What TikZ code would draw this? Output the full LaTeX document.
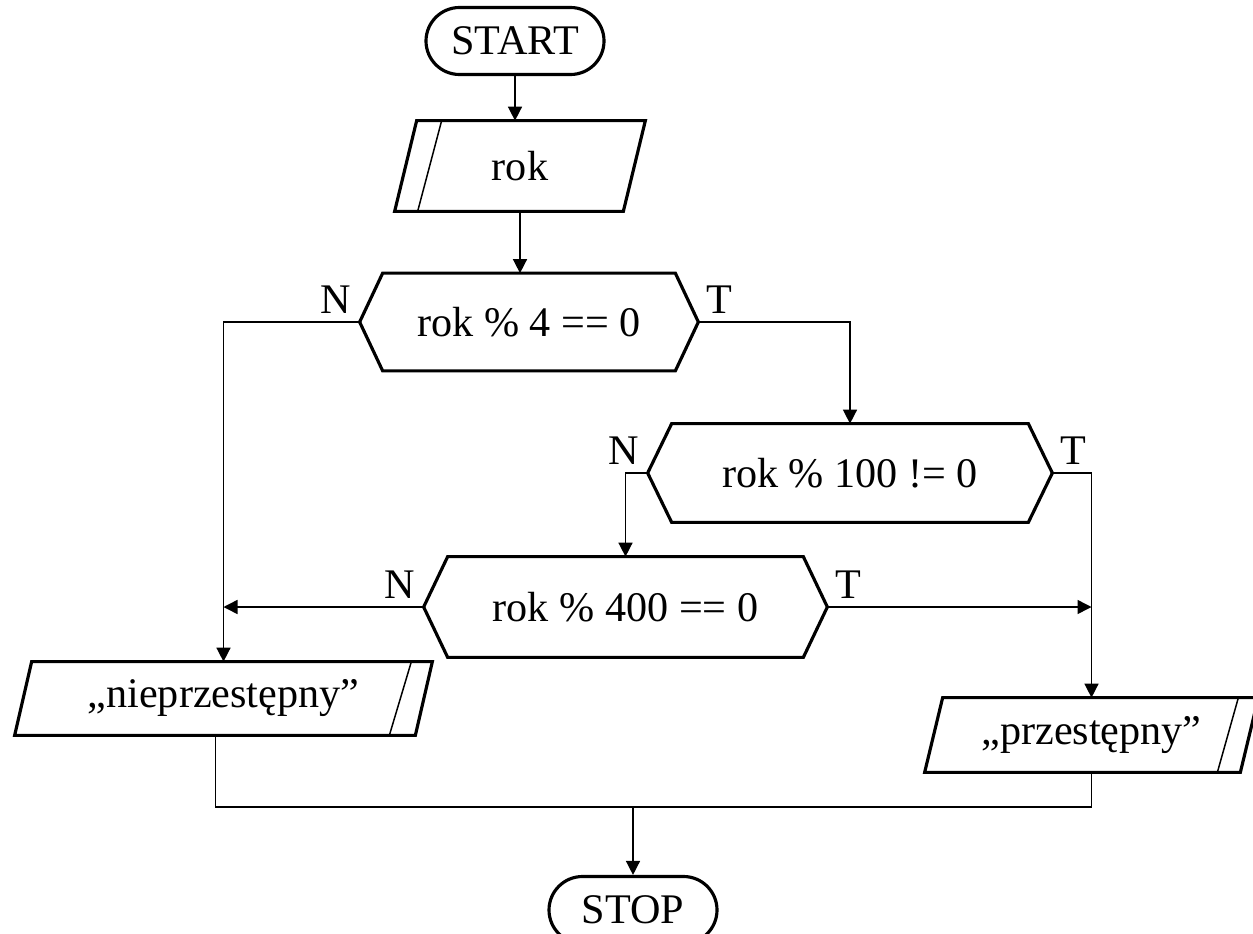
\documentclass[tikz,border=0pt]{standalone}
\usepackage{fontspec}
\setmainfont{Liberation Serif}
\usetikzlibrary{arrows.meta}
\begin{document}
\begin{tikzpicture}[
    font=\fontsize{24}{29}\selectfont,
    box/.style={inner sep=0pt},
    term/.style={box, draw, line width=1.8pt, rounded corners=0.67cm, minimum height=1.34cm},
    shp/.style={line width=1.8pt},
    edge/.style={line width=0.85pt},
    lbl/.style={inner sep=0.16cm}
  ]
  \useasboundingbox (0,0) rectangle (25.06,-18.68);
  \node[term, minimum width=3.56cm] (start) at (10.30,-0.82) {START};
  \node[box, minimum width=5.00cm, minimum height=1.80cm] (rok) at (10.40,-3.32) {rok};
  \node[box, minimum width=6.76cm, minimum height=1.94cm] (c1) at (10.58,-6.44) {rok \% 4 == 0};
  \node[box, minimum width=8.08cm, minimum height=1.96cm] (c2) at (17.00,-9.46) {rok \% 100 != 0};
  \node[box, minimum width=8.06cm, minimum height=2.00cm] (c3) at (12.51,-12.14) {rok \% 400 == 0};
  \node[box, minimum width=8.34cm, minimum height=1.46cm] (nie) at (4.47,-13.97) {„nieprzestępny”};
  \node[box, minimum width=6.66cm, minimum height=1.48cm] (prz) at (21.83,-14.70) {„przestępny”};
  \node[term, minimum width=3.36cm] (stop) at (12.66,-18.20) {STOP};
  \coordinate (m) at (12.66,-16.14);

  \node[lbl, anchor=south east] (n1) at (c1.west) {N};
  \node[lbl, anchor=south west] (t1) at (c1.east) {T};
  \node[lbl, anchor=south east] (n2) at (c2.west) {N};
  \node[lbl, anchor=south west] (t2) at (c2.east) {T};
  \node[lbl, anchor=south east] (n3) at (c3.west) {N};
  \node[lbl, anchor=south west] (t3) at (c3.east) {T};

  \foreach \n/\d in {c1/0.46, c2/0.48, c3/0.48}
    \draw[shp] (\n.west) -- ([xshift=\d cm]\n.north west) -- ([xshift=-\d cm]\n.north east)
      -- (\n.east) -- ([xshift=-\d cm]\n.south east) -- ([xshift=\d cm]\n.south west) -- cycle;
  \draw[shp] ([xshift=0.44cm]rok.north west) -- (rok.north east) -- ([xshift=-0.44cm]rok.south east) -- (rok.south west) -- cycle;
  \draw[edge] ([xshift=0.94cm]rok.north west) -- ([xshift=0.46cm]rok.south west);
  \draw[shp] ([xshift=0.34cm]nie.north west) -- (nie.north east) -- ([xshift=-0.34cm]nie.south east) -- (nie.south west) -- cycle;
  \draw[edge] ([xshift=-0.42cm]nie.north east) -- ([xshift=-0.86cm]nie.south east);
  \draw[shp] ([xshift=0.36cm]prz.north west) -- (prz.north east) -- ([xshift=-0.36cm]prz.south east) -- (prz.south west) -- cycle;
  \draw[edge] ([xshift=-0.40cm]prz.north east) -- ([xshift=-0.82cm]prz.south east);

  \begin{scope}[edge, -{Triangle[length=0.28cm,width=0.28cm]}]
    \draw (start.south) -- (start.south |- rok.north);
    \draw (rok.south) -- (rok.south |- c1.north);
    \draw (c1.west) -| (nie.north);
    \draw (c1.east) -| (c2.north);
    \draw (c2.west) -| (c3.north);
    \draw (c2.east) -| (prz.north);
    \draw (c3.west) -- (c3.west -| nie.north);
    \draw (c3.east) -- (c3.east -| prz.north);
    \draw (m) -- (stop.north);
  \end{scope}
  \draw[edge] ([xshift=-0.16cm]nie.south) |- (m) -| (prz.south);
\end{tikzpicture}
\end{document}
